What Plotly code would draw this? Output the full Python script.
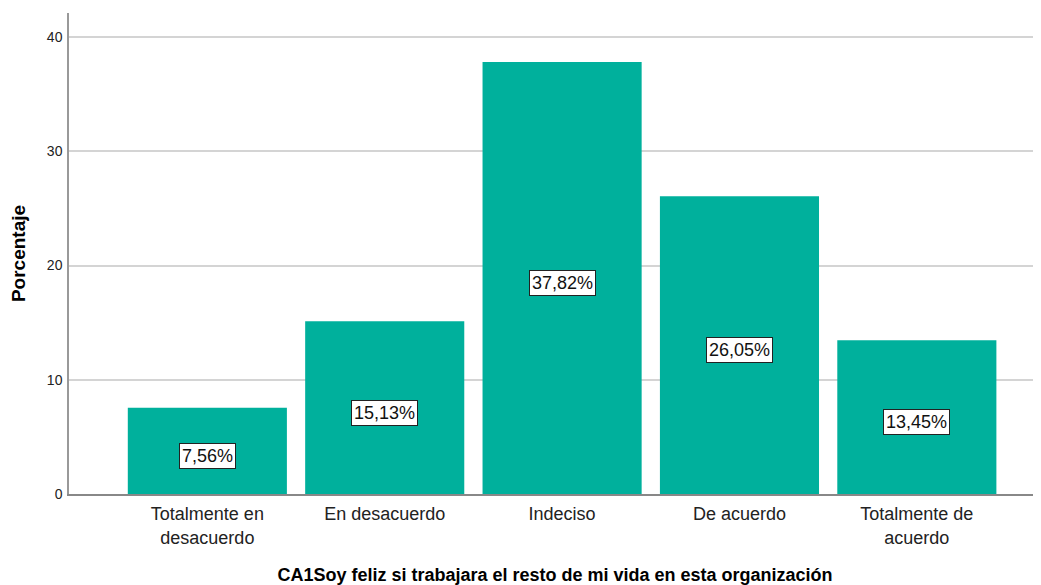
import plotly.graph_objects as go

# categories and percentages
categorias = ["Totalmente en<br>desacuerdo", "En desacuerdo", "Indeciso",
              "De acuerdo", "Totalmente de<br>acuerdo"]
porcentajes = [7.56, 15.13, 37.82, 26.05, 13.45]
etiquetas = ["7,56%", "15,13%", "37,82%", "26,05%", "13,45%"]
y_ticks = [0, 10, 20, 30, 40]

FONT = "Liberation Sans, Arial, sans-serif"

fig = go.Figure()
fig.add_trace(go.Bar(x=categorias, y=porcentajes, width=0.897,
                     marker=dict(color="#00B09C", line=dict(width=0)),
                     hoverinfo="skip"))

# value boxes in the middle of each bar
for cat, val, txt in zip(categorias, porcentajes, etiquetas):
    fig.add_annotation(x=cat, y=val / 2, text=txt, showarrow=False, yshift=-5,
                       font=dict(family=FONT, size=18, color="#111111"),
                       bgcolor="#FFFFFF", bordercolor="#222222",
                       borderwidth=1, borderpad=2)

# page body has an 8px margin, so the figure is shrunk by that much
fig.update_layout(
    width=1033, height=577,
    margin=dict(l=61, r=0, t=5, b=91, autoexpand=False),
    plot_bgcolor="white", paper_bgcolor="white",
    showlegend=False,
    font=dict(family=FONT, color="#000000"),
    xaxis=dict(range=[-0.78, 4.70], showgrid=False,
               showline=True, linecolor="#888888", linewidth=1.5,
               ticks="", tickfont=dict(size=18, color="#222222"),
               ticklabelstandoff=3,
               title=dict(text="<b>CA1Soy feliz si trabajara el resto de mi vida en esta organización</b>",
                          font=dict(size=18, color="#000000"), standoff=27)),
    yaxis=dict(range=[0, 42.1], tickvals=y_ticks, showgrid=True,
               gridcolor="#D4D4D4", gridwidth=1.5, zeroline=False,
               showline=True, linecolor="#999999", linewidth=1.5,
               ticks="", tickfont=dict(size=14, color="#222222"),
               ticklabelstandoff=2,
               title=dict(text="<b>Porcentaje</b>",
                          font=dict(size=19, color="#000000"), standoff=22)),
)

fig.write_html("out.html")
